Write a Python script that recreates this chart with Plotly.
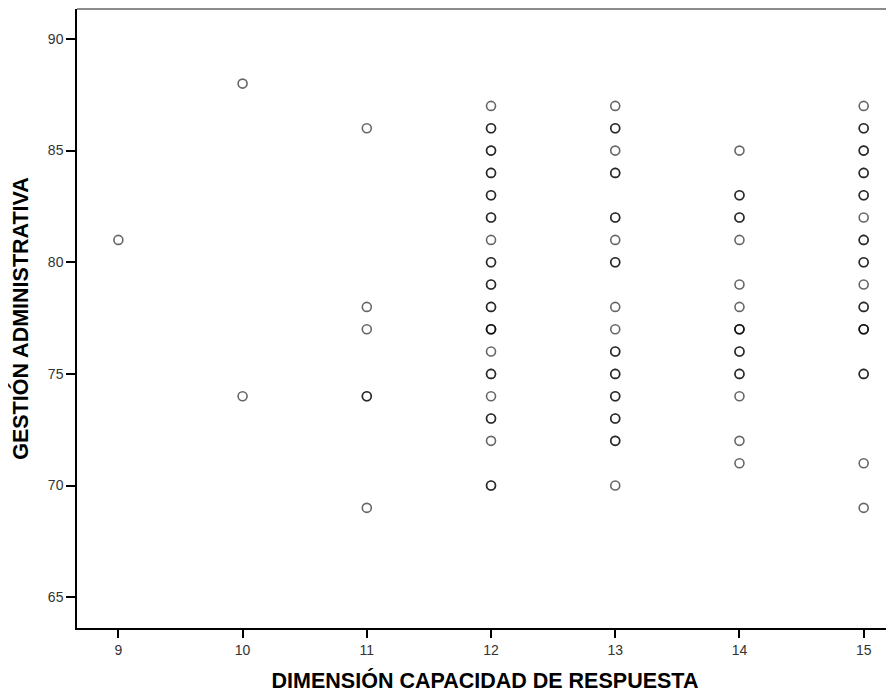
import plotly.graph_objects as go

# Observed cases per value of DIMENSIÓN CAPACIDAD DE RESPUESTA (duplicates = overlapping cases)
capacidad_9 = [81]
capacidad_10 = [88, 74]
capacidad_11 = [86, 78, 77, 74, 74, 69]
capacidad_12 = [87, 86, 86, 85, 85, 84, 84, 83, 83, 82, 82, 81, 80, 80, 79, 79,
                78, 78, 77, 77, 77, 76, 75, 75, 74, 73, 73, 72, 70, 70]
capacidad_13 = [87, 86, 86, 85, 84, 84, 82, 82, 81, 80, 80, 78, 77, 76, 76,
                75, 75, 74, 74, 73, 73, 72, 72, 70]
capacidad_14 = [85, 83, 83, 82, 82, 81, 79, 78, 77, 77, 77, 76, 76, 75, 75, 74, 72, 71]
capacidad_15 = [87, 86, 86, 85, 85, 84, 84, 83, 83, 82, 81, 81, 80, 80, 79,
                78, 78, 77, 77, 77, 75, 75, 71, 69]

x_ticks = [9, 10, 11, 12, 13, 14, 15]
y_ticks = [65, 70, 75, 80, 85, 90]

groups = [(9, capacidad_9), (10, capacidad_10), (11, capacidad_11), (12, capacidad_12),
          (13, capacidad_13), (14, capacidad_14), (15, capacidad_15)]
xs, ys = [], []
for xv, vals in groups:
    xs += [xv] * len(vals)
    ys += vals

FONT = "Liberation Sans, Arial, sans-serif"

fig = go.Figure()
fig.add_trace(go.Scatter(
    x=xs, y=ys, mode="markers",
    marker=dict(symbol="circle-open", size=9, color="rgba(0,0,0,0.6)",
                line=dict(width=1.6, color="rgba(0,0,0,0.6)")),
    showlegend=False, hoverinfo="x+y"))

fig.update_layout(
    width=886, height=688,
    margin=dict(l=69, r=1, t=1, b=68),
    paper_bgcolor="white", plot_bgcolor="white",
    font=dict(family=FONT, color="#333333"),
    shapes=[dict(type="line", xref="paper", yref="paper", x0=0, x1=1, y0=1, y1=1,
                 line=dict(color="#8c8c8c", width=2))],
)
fig.update_xaxes(
    range=[8.667, 15.236], tickvals=x_ticks, ticktext=[str(v) for v in x_ticks],
    showgrid=False, zeroline=False, showline=True, linecolor="black", linewidth=1.5,
    ticks="outside", ticklen=8, tickwidth=1.5, tickcolor="black",
    tickfont=dict(size=14, color="#333333", family=FONT),
    title=dict(text="<b>DIMENSIÓN CAPACIDAD DE RESPUESTA</b>",
               font=dict(size=21.5, color="black", family=FONT), standoff=16),
)
fig.update_yaxes(
    range=[63.62, 91.34], tickvals=y_ticks, ticktext=[str(v) for v in y_ticks],
    showgrid=False, zeroline=False, showline=True, linecolor="black", linewidth=1.5,
    ticks="outside", ticklen=9, tickwidth=1.5, tickcolor="black",
    tickfont=dict(size=14, color="#333333", family=FONT),
    title=dict(text="<b>GESTIÓN ADMINISTRATIVA</b>",
               font=dict(size=21.5, color="black", family=FONT), standoff=14),
)

fig.write_html("out.html")
